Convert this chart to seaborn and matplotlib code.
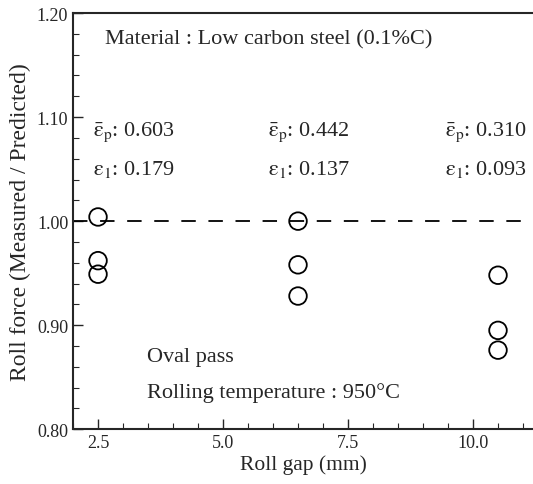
import numpy as np
import pandas as pd
import seaborn as sns
import matplotlib.pyplot as plt
from matplotlib.ticker import MultipleLocator

# measured / predicted roll force for three roll gaps
roll_gap = [2.5, 2.5, 2.5, 6.5, 6.5, 6.5, 10.5, 10.5, 10.5]
force_ratio = [1.004, 0.962, 0.949, 1.000, 0.958, 0.928, 0.948, 0.895, 0.876]

# strain annotations (left edge of each label block, in roll gap units)
label_x = [2.4, 5.9, 9.44]
eps_p = ['0.603', '0.442', '0.310']
eps_1 = ['0.179', '0.137', '0.093']

df = pd.DataFrame({'gap': roll_gap, 'ratio': force_ratio})

sns.set_style('ticks')
plt.rcParams['font.family'] = ['Liberation Serif', 'DejaVu Serif']
plt.rcParams['mathtext.fontset'] = 'stix'

fig = plt.figure(figsize=(5.33, 4.85), dpi=100)
ax = fig.add_axes([0.137, 0.113, 0.863, 0.858])

sns.scatterplot(data=df, x='gap', y='ratio', ax=ax, s=160, marker='o',
                facecolor='none', edgecolor='black', linewidth=1.3, zorder=3)
ax.axhline(1.0, color='black', linestyle=(0, (8, 7)), linewidth=1.3, zorder=2)

ax.set_xlim(2.0, 11.2)
ax.set_ylim(0.80, 1.20)
ax.xaxis.set_minor_locator(MultipleLocator(0.5))
ax.yaxis.set_minor_locator(MultipleLocator(0.02))
ax.set_xticks([2.5, 5.0, 7.5, 10.0])
ax.set_xticklabels(['2.5', '5.0', '7.5', '10.0'])
ax.set_yticks([0.8, 0.9, 1.0, 1.1, 1.2])
ax.set_yticklabels(['0.80', '0.90', '1.00', '1.10', '1.20'])
ax.tick_params(which='both', direction='in', labelsize=13, top=False, right=False)
ax.tick_params(which='major', length=7, width=1)
ax.tick_params(which='minor', length=4, width=0.8)
ax.spines['right'].set_visible(False)
for sp in ['left', 'bottom', 'top']:
    ax.spines[sp].set_linewidth(1.5)

ax.set_xlabel('Roll gap (mm)', fontsize=15.5, labelpad=2)
ax.set_ylabel('Roll force (Measured / Predicted)', fontsize=17, labelpad=4)

ax.text(2.64, 1.175, 'Material : Low carbon steel (0.1%C)', fontsize=16, va='center')
for x, p, e in zip(label_x, eps_p, eps_1):
    ax.text(x, 1.086, r'$\bar{\mathrm{ε}}_{\mathrm{p}}$: ' + p, fontsize=16, va='center')
    ax.text(x, 1.051, r'$\mathrm{ε}_{1}$: ' + e, fontsize=16, va='center')
ax.text(3.48, 0.870, 'Oval pass', fontsize=16, va='center')
ax.text(3.48, 0.836, 'Rolling temperature : 950°C', fontsize=16, va='center')

fig.savefig('out.png', dpi=100)
